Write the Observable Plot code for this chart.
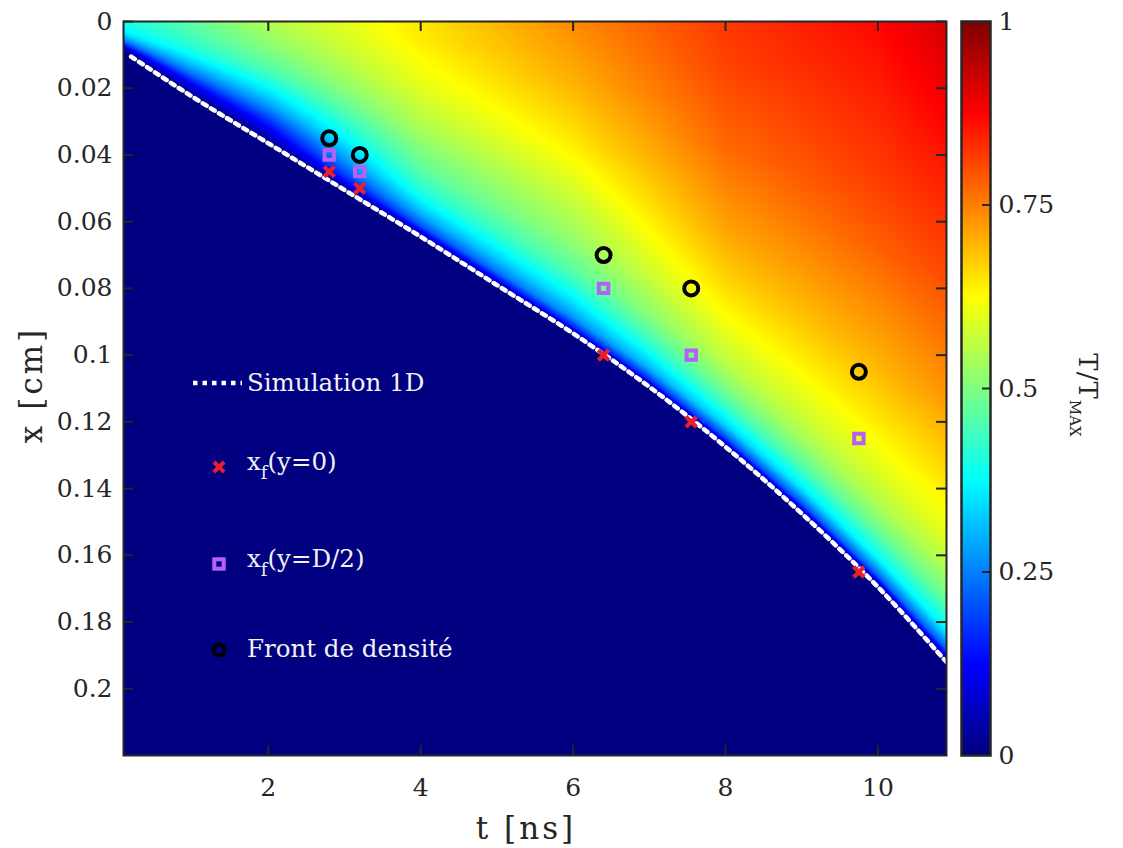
<!DOCTYPE html>
<html><head><meta charset="utf-8">
<script src="https://cdn.jsdelivr.net/npm/d3@7"></script>
<script src="https://cdn.jsdelivr.net/npm/@observablehq/plot@0.6"></script>
<style>
body{margin:0;background:#fff;}
#wrap{position:relative;width:1123px;height:848px;overflow:hidden;font-family:"DejaVu Serif",serif;color:#262626;}
#wrap svg{position:absolute;top:0;}
.abs{position:absolute;white-space:nowrap;line-height:1;}
.leg{position:absolute;white-space:nowrap;line-height:1;color:#f2f2f2;font-size:24.5px;transform:translateY(-50%);}
.sub{font-size:18px;position:relative;top:9px;}
</style></head><body><div id="wrap"></div>
<script>
// ---- data ----
// Simulation 1D front (t in ns, x in cm)
const frontT = [0.2, 1, 2, 3, 4, 5, 6, 7, 8, 9, 10, 10.9];
const frontX = [0.0105, 0.0225, 0.0365, 0.0505, 0.0645, 0.079, 0.0935, 0.1095, 0.1275, 0.1475, 0.1695, 0.192];
// measurement times and front positions
const sampleT = [2.8, 3.2, 6.4, 7.55, 9.75];
const xfAxis = [0.045, 0.05, 0.1, 0.12, 0.165];      // x_f(y=0)
const xfHalf = [0.04, 0.045, 0.08, 0.1, 0.125];      // x_f(y=D/2)
const densFront = [0.035, 0.04, 0.07, 0.08, 0.105];  // Front de densité
// T/Tmax field: columns at fieldT, rows at relative depth behind the front (0 = front, 1 = x=0)
const fieldT = [0.1, 2, 4, 6, 8, 10, 10.9];
const fieldS = [0, 0.02, 0.05, 0.1, 0.15, 0.2, 0.3, 0.4, 0.5, 0.6, 0.7, 0.8, 0.9, 1];
const fieldV = [
  [0, 0.01, 0.025, 0.05, 0.08, 0.12, 0.20, 0.26, 0.31, 0.35, 0.37, 0.38, 0.39, 0.40],
  [0, 0.02, 0.05, 0.10, 0.14, 0.18, 0.27, 0.34, 0.40, 0.45, 0.48, 0.51, 0.53, 0.55],
  [0, 0.09, 0.20, 0.29, 0.35, 0.40, 0.46, 0.50, 0.54, 0.57, 0.60, 0.62, 0.64, 0.65],
  [0, 0.15, 0.27, 0.35, 0.41, 0.46, 0.52, 0.56, 0.60, 0.64, 0.67, 0.70, 0.72, 0.74],
  [0, 0.19, 0.33, 0.44, 0.51, 0.56, 0.62, 0.67, 0.71, 0.74, 0.77, 0.79, 0.81, 0.82],
  [0, 0.22, 0.37, 0.48, 0.55, 0.59, 0.65, 0.70, 0.74, 0.78, 0.81, 0.83, 0.85, 0.87],
  [0, 0.22, 0.37, 0.48, 0.55, 0.60, 0.66, 0.72, 0.76, 0.80, 0.83, 0.86, 0.89, 0.92]
];
const tDomain = [0.1, 10.9];
const xDomain = [0, 0.22];
const xTicks = [2, 4, 6, 8, 10];
const yTicks = [0, 0.02, 0.04, 0.06, 0.08, 0.1, 0.12, 0.14, 0.16, 0.18, 0.2];
const cTicks = [0, 0.25, 0.5, 0.75, 1];

// ---- helpers ----
const frontData = frontT.map((t, i) => ({t, x: frontX[i]}));
const markers = sampleT.map((t, i) => ({t, a: xfAxis[i], h: xfHalf[i], d: densFront[i]}));

function frontAt(t) {
  let i = d3.bisectRight(frontT, t) - 1;
  i = Math.max(0, Math.min(frontT.length - 2, i));
  const u = (t - frontT[i]) / (frontT[i + 1] - frontT[i]);
  return frontX[i] + u * (frontX[i + 1] - frontX[i]);
}
function profile(row, s) {
  let k = d3.bisectRight(fieldS, s) - 1;
  k = Math.max(0, Math.min(fieldS.length - 2, k));
  const w = (s - fieldS[k]) / (fieldS[k + 1] - fieldS[k]);
  return row[k] * (1 - w) + row[k + 1] * w;
}
function field(t, x) {
  const xf = frontAt(t);
  if (x >= xf) return 0;
  const s = Math.min(1, (xf - x) / xf);
  let j = d3.bisectRight(fieldT, t) - 1;
  j = Math.max(0, Math.min(fieldT.length - 2, j));
  const u = Math.max(0, Math.min(1, (t - fieldT[j]) / (fieldT[j + 1] - fieldT[j])));
  return profile(fieldV[j], s) * (1 - u) + profile(fieldV[j + 1], s) * u;
}
const jet = t => {
  const c = v => Math.max(0, Math.min(1, v));
  const r = c(1.5 - Math.abs(4 * t - 3)), g = c(1.5 - Math.abs(4 * t - 2)), b = c(1.5 - Math.abs(4 * t - 1));
  return `rgb(${Math.round(r * 255)},${Math.round(g * 255)},${Math.round(b * 255)})`;
};
const colorOpts = {type: "linear", domain: [0, 1], interpolate: jet};
const ink = "#262626";
const font = {fontFamily: "DejaVu Serif", fontSize: "25px", color: ink, background: "transparent", overflow: "visible"};
const FW = 823, FH = 734, TL = 10;

const main = Plot.plot({
  width: 960, height: 848, marginLeft: 123, marginRight: 14, marginTop: 21, marginBottom: 93,
  style: font,
  x: {domain: tDomain},
  y: {domain: xDomain, reverse: true},
  color: colorOpts,
  marks: [
    Plot.raster({fill: field, x1: tDomain[0], x2: tDomain[1], y1: xDomain[0], y2: xDomain[1], pixelSize: 1}),
    Plot.line(frontData, {x: "t", y: "x", stroke: "white", strokeWidth: 4.5, strokeDasharray: "4.5 5", curve: "monotone-x"}),
    Plot.dot(markers, {x: "t", y: "d", r: 7, stroke: "black", strokeWidth: 4, fill: "none"}),
    Plot.dot(markers, {x: "t", y: "h", symbol: "square", r: 5.3, stroke: "#b462f2", strokeWidth: 4, fill: "none"}),
    Plot.dot(markers, {x: "t", y: "a", symbol: "times", r: 4.8, stroke: "#e8202a", strokeWidth: 4.2}),
    Plot.frame({stroke: ink, strokeWidth: 2}),
    Plot.tickX(xTicks, {x: d => d, insetTop: FH - TL, stroke: ink, strokeWidth: 2}),
    Plot.tickX(xTicks, {x: d => d, insetBottom: FH - TL, stroke: ink, strokeWidth: 2}),
    Plot.tickY(yTicks, {y: d => d, insetRight: FW - TL, stroke: ink, strokeWidth: 2}),
    Plot.tickY(yTicks, {y: d => d, insetLeft: FW - TL, stroke: ink, strokeWidth: 2}),
    Plot.axisX(xTicks, {tickSize: 0, tickPadding: 23, label: null, tickFormat: d => String(d)}),
    Plot.axisY(yTicks, {tickSize: 0, tickPadding: 11, label: null, tickFormat: d => String(d)})
  ]
});

const cbar = Plot.plot({
  width: 162, height: 848, marginLeft: 0, marginRight: 133, marginTop: 21, marginBottom: 93,
  style: font,
  x: {domain: [0, 1], axis: null},
  y: {domain: [0, 1]},
  color: colorOpts,
  marks: [
    Plot.raster({fill: (x, y) => y, x1: 0, x2: 1, y1: 0, y2: 1, pixelSize: 1}),
    Plot.frame({stroke: ink, strokeWidth: 2.5}),
    Plot.tickY(cTicks.slice(1, -1), {y: d => d, insetLeft: 29 - 8, stroke: ink, strokeWidth: 2}),
    Plot.axisY(cTicks, {anchor: "right", tickSize: 0, tickPadding: 8, label: null, tickFormat: d => String(d)})
  ]
});

const wrap = document.getElementById("wrap");
main.style.left = "0px";
wrap.appendChild(main);
cbar.style.left = "961px";
wrap.appendChild(cbar);

// axis titles, colorbar title and legend
wrap.insertAdjacentHTML("beforeend", `
<div class="abs" style="left:526px;top:828px;font-size:31px;letter-spacing:3px;transform:translate(-50%,-50%)">t [ns]</div>
<div class="abs" style="left:31px;top:385px;font-size:31px;letter-spacing:3px;transform:translate(-50%,-50%) rotate(-90deg)">x [cm]</div>
<div class="abs" style="left:1088px;top:395px;font-size:26px;letter-spacing:1px;transform:translate(-50%,-50%) rotate(90deg)">T/T<span style="font-size:15px;letter-spacing:0;position:relative;top:9px">MAX</span></div>
<svg style="position:absolute;left:190px;top:371px" width="54" height="24"><line x1="3" y1="12" x2="52" y2="12" stroke="white" stroke-width="4.5" stroke-dasharray="4.5 5"/></svg>
<div class="leg" style="left:247px;top:383px">Simulation 1D</div>
<svg style="position:absolute;left:208px;top:456px" width="22" height="22"><path d="M6,6L16,16M16,6L6,16" stroke="#e8202a" stroke-width="4"/></svg>
<div class="leg" style="left:247px;top:462px">x<span class="sub">f</span>(y=0)</div>
<svg style="position:absolute;left:208px;top:553px" width="22" height="22"><rect x="6.3" y="6.3" width="9.4" height="9.4" fill="none" stroke="#b462f2" stroke-width="4"/></svg>
<div class="leg" style="left:247px;top:559px">x<span class="sub">f</span>(y=D/2)</div>
<svg style="position:absolute;left:208px;top:639px" width="22" height="22"><circle cx="11" cy="11" r="5.5" fill="none" stroke="black" stroke-width="4"/></svg>
<div class="leg" style="left:247px;top:649px">Front de densité</div>
`);
</script></body></html>
